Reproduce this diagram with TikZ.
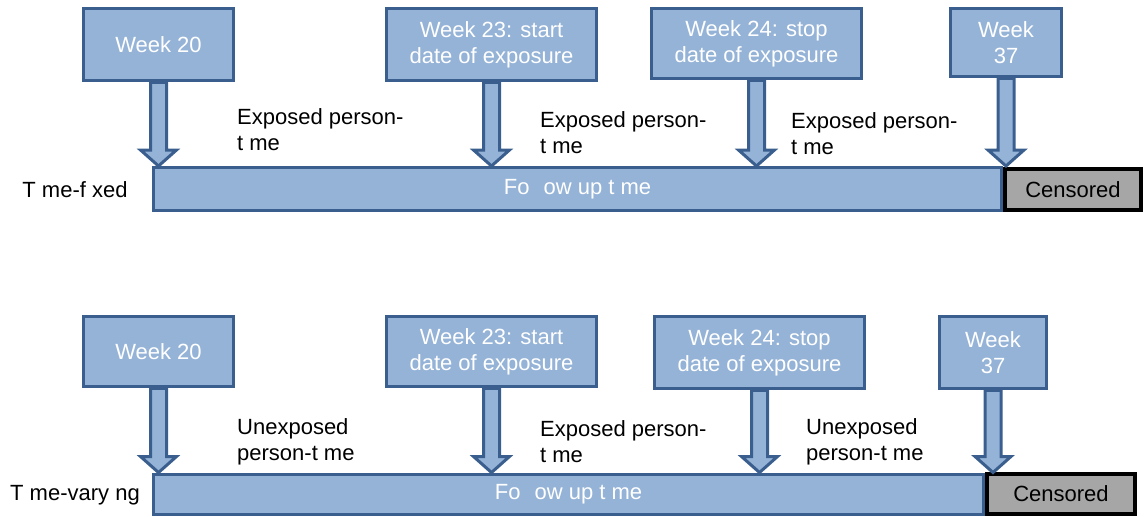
\documentclass[tikz,border=0pt]{standalone}
\usepackage{fontspec}
\setmainfont{Liberation Sans}
\usetikzlibrary{calc}
\definecolor{lblue}{HTML}{95B3D7}
\definecolor{dblue}{HTML}{3A5F8E}
\definecolor{cgray}{HTML}{A6A6A6}
\tikzset{
  wk/.style={draw=dblue, fill=lblue, line width=3.5pt, text=white, align=center,
    inner sep=0pt, font=\fontsize{22}{26}\selectfont},
  barbox/.style={draw=dblue, fill=lblue, line width=3pt, text=white, inner sep=0pt,
    font=\fontsize{22}{26}\selectfont},
  cens/.style={draw=black, fill=cgray, line width=4pt, text=black, inner sep=0pt,
    font=\fontsize{22}{26}\selectfont},
  lbl/.style={anchor=north west, align=left, inner sep=0pt, text=black,
    font=\fontsize{22}{26}\selectfont},
  rowlbl/.style={inner sep=0pt, text=black, font=\fontsize{22}{26}\selectfont},
  barrow/.style={draw=dblue, fill=lblue, line width=3pt, line join=miter}
}
\newcommand{\blockarr}[2]{%
  \draw[barrow] let \p1=(#1), \p2=(#2) in
    (\x1-8pt,\y1) -- (\x1-8pt,\y2+16pt) -- (\x1-18pt,\y2+16pt) -- (\x1,\y2)
    -- (\x1+18pt,\y2+16pt) -- (\x1+8pt,\y2+16pt) -- (\x1+8pt,\y1) -- cycle;}
\begin{document}
\begin{tikzpicture}[x=1pt,y=-1pt]
\useasboundingbox (0,0) rectangle (1144,517);
% ---------- top panel ----------
\node[wk, minimum width=150pt, minimum height=72pt] (w20a) at (158.5,44.5) {Week 20};
\node[wk, minimum width=210pt, minimum height=72pt] (w23a) at (491.5,44.5) {Week 23: start\\date of exposure};
\node[wk, minimum width=210pt, minimum height=70pt] (w24a) at (756.5,43.5) {Week 24: stop\\date of exposure};
\node[wk, minimum width=111pt, minimum height=68pt] (w37a) at (1006,42.5) {Week\\37};
\node[barbox, minimum width=848pt, minimum height=43pt] (bara) at (577.5,189) {Fo \hspace{8pt}ow up t me};
\node[cens, minimum width=136pt, minimum height=41pt] (cena) at (1073,189.5) {Censored};
\node[rowlbl] (rla) at (75,190) {T me-f xed};
\coordinate (ta1) at (w20a.south |- bara.north);
\coordinate (ta2) at (w23a.south |- bara.north);
\coordinate (ta3) at (w24a.south |- bara.north);
\coordinate (ta4) at (w37a.south |- bara.north);
\blockarr{w20a.south}{ta1}
\blockarr{w23a.south}{ta2}
\blockarr{w24a.south}{ta3}
\blockarr{w37a.south}{ta4}
\node[lbl] (la1) at (237,108) {Exposed person-\\t me};
\node[lbl] (la2) at (540,111) {Exposed person-\\t me};
\node[lbl] (la3) at (791,112) {Exposed person-\\t me};
% ---------- bottom panel ----------
\node[wk, minimum width=150pt, minimum height=70pt] (w20b) at (158.5,351.5) {Week 20};
\node[wk, minimum width=210pt, minimum height=70pt] (w23b) at (491.5,351.5) {Week 23: start\\date of exposure};
\node[wk, minimum width=210pt, minimum height=72pt] (w24b) at (759.5,352.5) {Week 24: stop\\date of exposure};
\node[wk, minimum width=107pt, minimum height=72pt] (w37b) at (993,352.5) {Week\\37};
\node[barbox, minimum width=830pt, minimum height=40pt] (barb) at (568.5,494) {Fo \hspace{8pt}ow up t me};
\node[cens, minimum width=148pt, minimum height=40pt] (cenb) at (1061,494) {Censored};
\node[rowlbl] (rlb) at (75,495) {T me-vary ng};
\coordinate (tb1) at (w20b.south |- barb.north);
\coordinate (tb2) at (w23b.south |- barb.north);
\coordinate (tb3) at (w24b.south |- barb.north);
\coordinate (tb4) at (w37b.south |- barb.north);
\blockarr{w20b.south}{tb1}
\blockarr{w23b.south}{tb2}
\blockarr{w24b.south}{tb3}
\blockarr{w37b.south}{tb4}
\node[lbl] (lb1) at (237,418) {Unexposed\\person-t me};
\node[lbl] (lb2) at (540,420) {Exposed person-\\t me};
\node[lbl] (lb3) at (806,418) {Unexposed\\person-t me};
\end{tikzpicture}
\end{document}
